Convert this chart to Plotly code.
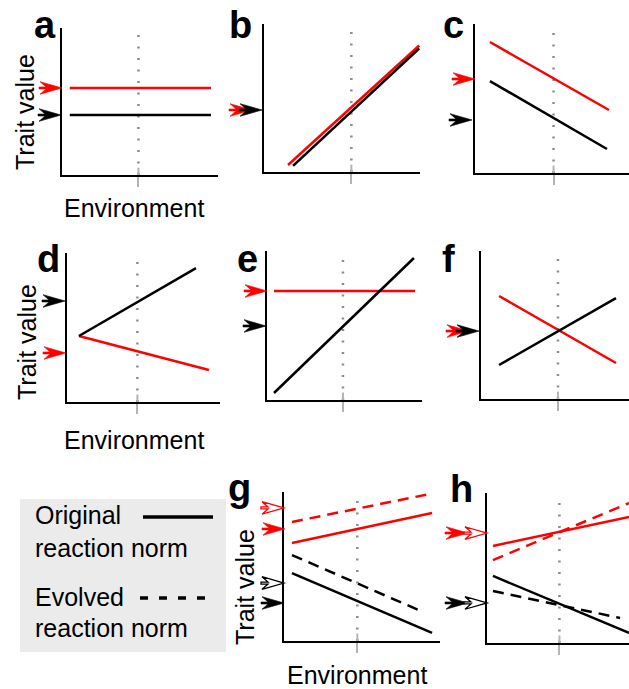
import plotly.graph_objects as go

W, H = 629, 689
RED = "#ff0000"
BLACK = "#000000"
FONT = "Liberation Sans, Arial, Helvetica, sans-serif"

# ---------------- data ----------------
panel_labels = ["a", "b", "c", "d", "e", "f", "g", "h"]
# reference environment (dotted line), fraction of the environment axis
ref_env = [0.49, 0.56, 0.51, 0.46, 0.49, 0.52, 0.47, 0.51]

# reaction norms (environment -> trait value), panel-relative units
a_red_x = [0.05, 0.955]; a_red_y = [0.592, 0.592]
a_blk_x = [0.05, 0.955]; a_blk_y = [0.408, 0.408]
b_red_x = [0.154, 0.995]; b_red_y = [0.047, 0.855]
b_blk_x = [0.186, 0.995]; b_blk_y = [0.041, 0.835]
c_red_x = [0.097, 0.870]; c_red_y = [0.879, 0.423]
c_blk_x = [0.097, 0.857]; c_blk_y = [0.617, 0.161]
d_red_x = [0.078, 0.928]; d_red_y = [0.443, 0.215]
d_blk_x = [0.078, 0.843]; d_blk_y = [0.443, 0.899]
e_red_x = [0.045, 0.955]; e_red_y = [0.732, 0.732]
e_blk_x = [0.045, 0.948]; e_blk_y = [0.047, 0.953]
f_red_x = [0.122, 0.912]; f_red_y = [0.696, 0.243]
f_blk_x = [0.122, 0.912]; f_blk_y = [0.230, 0.682]
g_red_x = [0.051, 0.949]; g_red_y = [0.658, 0.859]
g_red_evo_x = [0.051, 0.949]; g_red_evo_y = [0.799, 0.99]
g_blk_x = [0.051, 0.949]; g_blk_y = [0.456, 0.054]
g_blk_evo_x = [0.051, 0.891]; g_blk_evo_y = [0.577, 0.195]
h_red_x = [0.042, 1.0]; h_red_y = [0.647, 0.84]
h_red_evo_x = [0.042, 1.0]; h_red_evo_y = [0.553, 0.933]
h_blk_x = [0.042, 1.0]; h_blk_y = [0.447, 0.067]
h_blk_evo_x = [0.042, 0.937]; h_blk_evo_y = [0.347, 0.167]

# trait-value arrows on the y axis
arrow_panel = [0, 0, 1, 1, 2, 2, 3, 3, 4, 4, 5, 5, 6, 6, 6, 6, 7, 7, 7, 7]
arrow_y = [0.592, 0.408, 0.419, 0.419, 0.631, 0.356, 0.678, 0.329, 0.732, 0.497,
           0.459, 0.459, 0.752, 0.893, 0.255, 0.389, 0.733, 0.733, 0.267, 0.267]
arrow_color = ["r", "k", "r", "k", "r", "k", "k", "r", "r", "k",
               "r", "k", "r", "r", "k", "k", "r", "r", "k", "k"]
arrow_open = [0, 0, 0, 0, 0, 0, 0, 0, 0, 0, 0, 0, 0, 1, 0, 1, 0, 1, 0, 1]
arrow_shift = [0, -1, -12, -2, 0, -3, -2, -1, 0, -1, -12, -2, 1, 0, 0, 0, -19, 0, -19, 0]

# ---------------- layout geometry (pixels) ----------------
# left, right, top, bottom of each panel's axes box
boxes = [
    (62, 218, 28, 175), (264, 420, 24, 172), (475, 629, 24, 173),
    (67, 220, 253, 402), (267, 422, 251, 400), (481, 629, 251, 399),
    (284, 440, 492, 641), (487, 629, 493, 643),
]

fig = go.Figure()


def ax_ids(i):
    return ("x" if i == 0 else f"x{i+1}", "y" if i == 0 else f"y{i+1}")


for i, (l, r, t, b) in enumerate(boxes):
    xid, yid = ax_ids(i)
    fig.layout["xaxis" if i == 0 else f"xaxis{i+1}"] = dict(
        domain=[l / W, r / W], range=[0, 1], anchor=yid,
        showline=True, linecolor=BLACK, linewidth=2, mirror=False,
        ticks="outside", tickvals=[ref_env[i]], ticklen=10, tickwidth=2,
        tickcolor="#b4b4b4", showticklabels=False, showgrid=False, zeroline=False,
        fixedrange=True)
    fig.layout["yaxis" if i == 0 else f"yaxis{i+1}"] = dict(
        domain=[1 - b / H, 1 - t / H], range=[0, 1], anchor=xid,
        showline=True, linecolor=BLACK, linewidth=2, mirror=False,
        ticks="", showticklabels=False, showgrid=False, zeroline=False,
        fixedrange=True)
    # dotted reference environment
    fig.add_trace(go.Scatter(x=[ref_env[i], ref_env[i]], y=[0, 0.96], mode="lines",
                             line=dict(color="#8c8c8c", width=2.5, dash="2px,9.5px"),
                             xaxis=xid, yaxis=yid, hoverinfo="skip"))
    fig.add_trace(go.Scatter(x=[ref_env[i], ref_env[i]], y=[0, 0.05], mode="lines",
                             line=dict(color="#b4b4b4", width=2),
                             xaxis=xid, yaxis=yid, hoverinfo="skip"))

norms = [
    (0, a_red_x, a_red_y, RED, None), (0, a_blk_x, a_blk_y, BLACK, None),
    (1, b_red_x, b_red_y, RED, None), (1, b_blk_x, b_blk_y, BLACK, None),
    (2, c_red_x, c_red_y, RED, None), (2, c_blk_x, c_blk_y, BLACK, None),
    (3, d_red_x, d_red_y, RED, None), (3, d_blk_x, d_blk_y, BLACK, None),
    (4, e_red_x, e_red_y, RED, None), (4, e_blk_x, e_blk_y, BLACK, None),
    (5, f_red_x, f_red_y, RED, None), (5, f_blk_x, f_blk_y, BLACK, None),
    (6, g_red_x, g_red_y, RED, None), (6, g_red_evo_x, g_red_evo_y, RED, "11px,7px"),
    (6, g_blk_x, g_blk_y, BLACK, None), (6, g_blk_evo_x, g_blk_evo_y, BLACK, "11px,7px"),
    (7, h_red_x, h_red_y, RED, None), (7, h_red_evo_x, h_red_evo_y, RED, "11px,7px"),
    (7, h_blk_x, h_blk_y, BLACK, None), (7, h_blk_evo_x, h_blk_evo_y, BLACK, "11px,7px"),
]
for p, xs, ys, col, dash in norms:
    xid, yid = ax_ids(p)
    fig.add_trace(go.Scatter(x=xs, y=ys, mode="lines",
                             line=dict(color=col, width=2.5, dash=dash or "solid"),
                             xaxis=xid, yaxis=yid, hoverinfo="skip"))


def arrow_path(s):
    pts = [(0, 0), (-22, 6.3), (-16, 1), (-23, 1), (-23, -1), (-16, -1), (-22, -6.3)]
    return "M" + " L".join(f"{x + s},{y}" for x, y in pts) + " Z"


shapes = []
# legend box
shapes.append(dict(type="rect", xref="paper", yref="paper", x0=20 / W, x1=226 / W,
                   y0=1 - 652 / H, y1=1 - 499 / H, fillcolor="#ebebeb",
                   line=dict(width=0), layer="below"))
shapes.append(dict(type="line", xref="paper", yref="paper", x0=143 / W, x1=213 / W,
                   y0=1 - 517 / H, y1=1 - 517 / H, line=dict(color=BLACK, width=3.5)))
shapes.append(dict(type="line", xref="paper", yref="paper", x0=140 / W, x1=212 / W,
                   y0=1 - 598 / H, y1=1 - 598 / H,
                   line=dict(color=BLACK, width=3.5, dash="8px,11px")))

for p, yv, c, op, s in zip(arrow_panel, arrow_y, arrow_color, arrow_open, arrow_shift):
    xid, yid = ax_ids(p)
    col = RED if c == "r" else BLACK
    shapes.append(dict(type="path", xref=f"{xid} domain", yref=yid,
                       xsizemode="pixel", ysizemode="pixel", xanchor=0, yanchor=yv,
                       path=arrow_path(s),
                       fillcolor="white" if op else col,
                       line=dict(color=col, width=1.3 if op else 0.6)))

ann = []
label_pos = [(45, 48), (240, 48), (453, 48), (48, 282), (247, 282), (449, 282),
             (239, 511), (461, 512)]
for lab, (x, y) in zip(panel_labels, label_pos):
    ann.append(dict(text=f"<b>{lab}</b>", x=x / W, y=1 - y / H, xref="paper", yref="paper",
                    xanchor="center", yanchor="bottom", showarrow=False,
                    font=dict(size=38, family=FONT, color=BLACK)))

for x, y in [(25, 112), (27, 342), (245, 587)]:
    ann.append(dict(text="Trait value", x=x / W, y=1 - y / H, xref="paper", yref="paper",
                    xanchor="center", yanchor="middle", textangle=-90, showarrow=False,
                    font=dict(size=25, family=FONT, color=BLACK)))
for x, y in [(134, 208), (134, 440), (357, 675)]:
    ann.append(dict(text="Environment", x=x / W, y=1 - y / H, xref="paper", yref="paper",
                    xanchor="center", yanchor="middle", showarrow=False,
                    font=dict(size=25, family=FONT, color=BLACK)))

legend_text = ["Original", "reaction norm", "Evolved", "reaction norm"]
legend_y = [514.6, 547.6, 596.6, 628.3]
for txt, y in zip(legend_text, legend_y):
    ann.append(dict(text=txt, x=33 / W, y=1 - y / H, xref="paper", yref="paper",
                    xanchor="left", yanchor="middle", showarrow=False,
                    font=dict(size=25, family=FONT, color=BLACK)))

fig.update_layout(width=W, height=H, margin=dict(l=0, r=0, t=0, b=0),
                  paper_bgcolor="white", plot_bgcolor="white", showlegend=False,
                  shapes=shapes, annotations=ann)

fig.write_html("out.html", config={"displayModeBar": False},
               post_script="document.body.style.margin='0px';"
                           "document.body.style.overflow='hidden';")
